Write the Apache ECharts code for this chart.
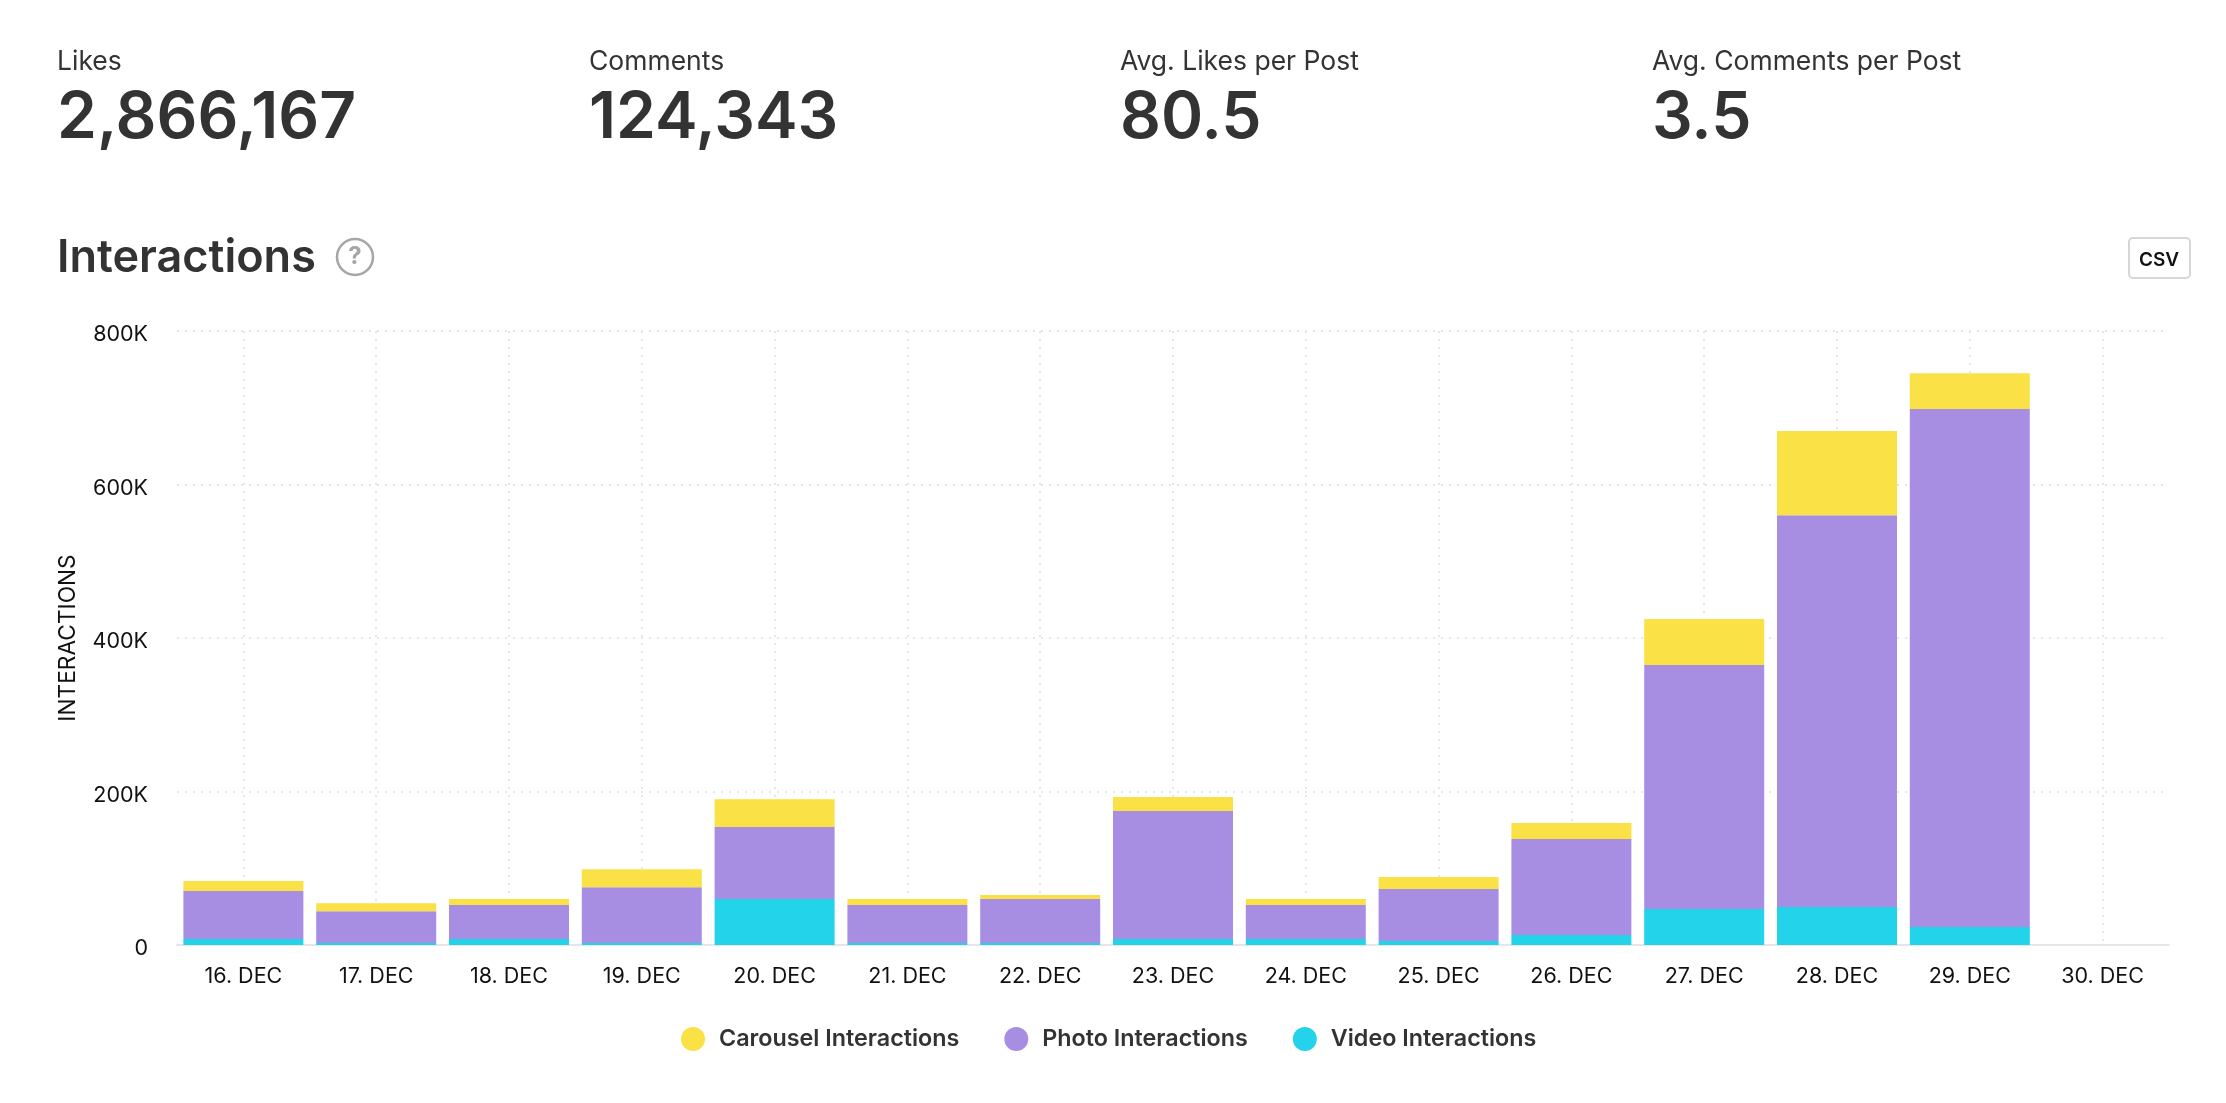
<!DOCTYPE html>
<html>
<head>
<meta charset="utf-8">
<title>Interactions</title>
<script src="https://cdn.jsdelivr.net/npm/echarts@6/dist/echarts.min.js"></script>
<style>
  html, body { margin: 0; padding: 0; background: #fff; }
  #chart { width: 2226px; height: 1103px; }
</style>
</head>
<body>
<div id="chart"></div>
<script>
var categories = ['16. DEC', '17. DEC', '18. DEC', '19. DEC', '20. DEC', '21. DEC', '22. DEC', '23. DEC',
    '24. DEC', '25. DEC', '26. DEC', '27. DEC', '28. DEC', '29. DEC', '30. DEC'];
var videoValues = [7800, 2600, 7800, 2600, 59900, 2600, 2600, 7800, 7800, 5200, 13000, 46900, 49500, 23400, 0];
var photoValues = [62500, 41400, 44200, 72600, 93700, 49400, 57400, 166700, 44200, 67700, 125000, 317900, 510500, 675000, 0];
var carouselValues = [13000, 10400, 7800, 23400, 36400, 7800, 5200, 18200, 7800, 15600, 20800, 60000, 109700, 46600, 0];

var kpiLabels = ['Likes', 'Comments', 'Avg. Likes per Post', 'Avg. Comments per Post'];
var kpiValues = ['2,866,167', '124,343', '80.5', '3.5'];
var kpiLefts = [57, 589, 1120, 1652];

var font = 'Inter';

var titles = [];
kpiLabels.forEach(function (label, i) {
    titles.push({
        text: label, left: kpiLefts[i], top: 49,
        padding: 0,
        textStyle: { fontFamily: font, fontSize: 26.5, fontWeight: 400, color: '#333' }
    });
    titles.push({
        text: kpiValues[i], left: kpiLefts[i], top: 87,
        padding: 0,
        textStyle: { fontFamily: font, fontSize: 64, fontWeight: 600, color: '#333' }
    });
});
titles.push({
    text: 'Interactions', left: 57, top: 236,
    padding: 0,
    textStyle: { fontFamily: font, fontSize: 45, fontWeight: 600, color: '#333' }
});

var chart = echarts.init(document.getElementById('chart'));
chart.setOption({
    animation: false,
    backgroundColor: '#fff',
    title: titles,
    legend: {
        data: ['Carousel Interactions', 'Photo Interactions', 'Video Interactions'],
        left: 681,
        top: 1027,
        icon: 'circle',
        itemWidth: 24,
        itemHeight: 24,
        itemGap: 45,
        padding: 0,
        textStyle: { fontFamily: font, fontSize: 23.3, fontWeight: 600, color: '#333', padding: [0, 0, 0, 9] }
    },
    grid: { left: 177, right: 57, top: 331, bottom: 158 },
    xAxis: {
        type: 'category',
        data: categories,
        axisLine: { lineStyle: { color: '#e6e6e6', width: 2 } },
        axisTick: { alignWithLabel: true, length: 9, lineStyle: { color: '#e6e6e6', width: 1.5 } },
        axisLabel: { fontFamily: font, fontSize: 21.5, color: '#111', margin: 21 },
        splitLine: {
            show: true,
            alignWithLabel: true,
            lineStyle: { color: '#e6e6e6', width: 2, type: [2, 6] }
        }
    },
    yAxis: {
        type: 'value',
        min: 0,
        max: 800000,
        interval: 200000,
        name: 'INTERACTIONS',
        nameLocation: 'middle',
        nameGap: 97,
        nameTextStyle: { fontFamily: font, fontSize: 22.7, color: '#111' },
        axisLine: { show: false },
        axisTick: { show: false },
        axisLabel: {
            fontFamily: font, fontSize: 21.5, color: '#111', margin: 29,
            verticalAlign: 'top',
            lineHeight: 8,
            formatter: function (v) { return v === 0 ? '0' : (v / 1000) + 'K'; }
        },
        splitLine: { lineStyle: { color: '#e6e6e6', width: 2, type: [2, 6] } }
    },
    series: [
        { name: 'Video Interactions', type: 'bar', stack: 'total', barWidth: 120, data: videoValues, itemStyle: { color: '#22d3ea' } },
        { name: 'Photo Interactions', type: 'bar', stack: 'total', barWidth: 120, data: photoValues, itemStyle: { color: '#a78ee2' } },
        { name: 'Carousel Interactions', type: 'bar', stack: 'total', barWidth: 120, data: carouselValues, itemStyle: { color: '#fae246' } }
    ],
    graphic: [
        { type: 'circle', shape: { cx: 355, cy: 257, r: 18 }, style: { fill: '#fff', stroke: '#a6a6a6', lineWidth: 2.5 } },
        { type: 'text', x: 355, y: 257, style: { text: '?', fontFamily: font, fontSize: 24, fontWeight: 700, fill: '#a6a6a6', align: 'center', verticalAlign: 'middle' } },
        { type: 'rect', shape: { x: 2129, y: 238, width: 61, height: 40, r: 4 }, style: { fill: '#fff', stroke: '#d6d6d6', lineWidth: 2 } },
        { type: 'text', x: 2159, y: 260, style: { text: 'CSV', fontFamily: font, fontSize: 19, fontWeight: 600, fill: '#111', align: 'center', verticalAlign: 'middle' } }
    ]
});
</script>
</body>
</html>
